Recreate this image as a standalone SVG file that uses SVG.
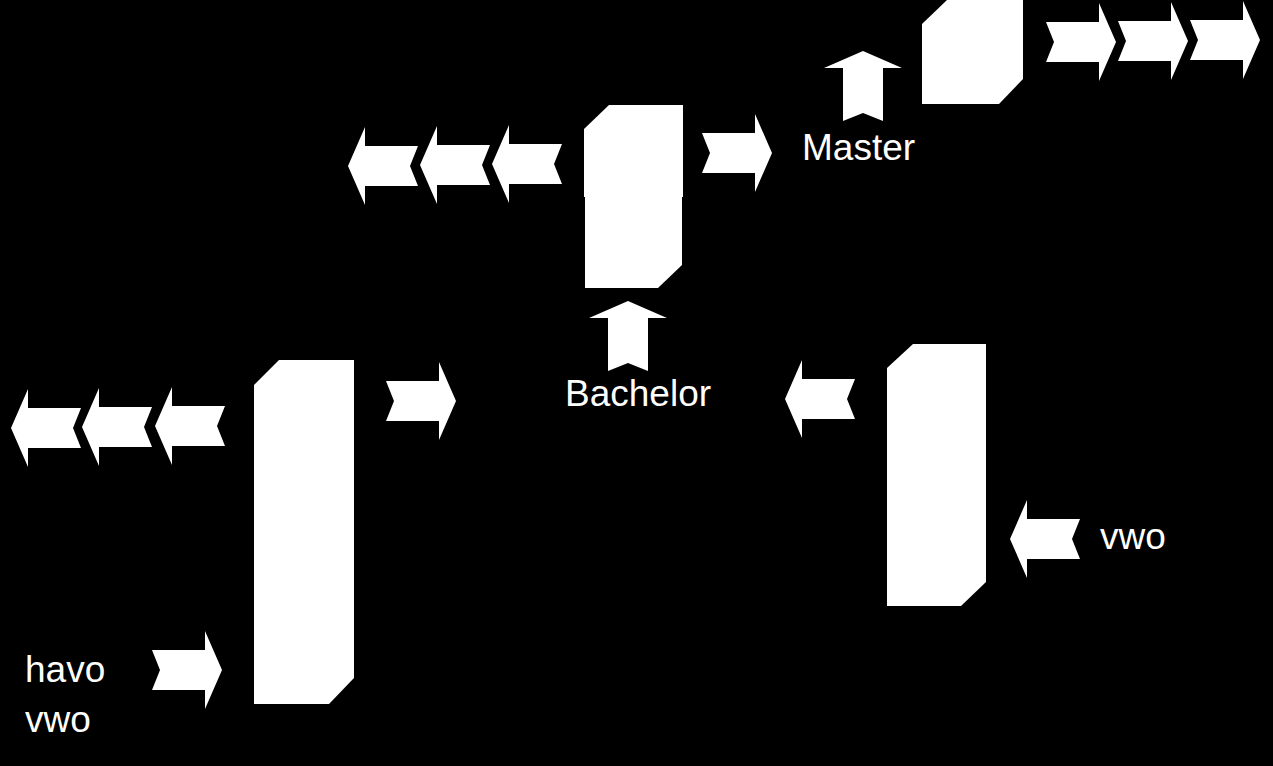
<svg xmlns="http://www.w3.org/2000/svg" xmlns:xlink="http://www.w3.org/1999/xlink" width="1273" height="766" viewBox="0 0 1273 766">
<style>
.box{fill:#fff;stroke:none}
.arw{fill:#fff;stroke:none}
.lbl{fill:#fff;font-family:"Liberation Sans",Arial,sans-serif;font-size:37px}
</style>
<defs>
<path id="ar" d="M0,19 H53 V0 L70,39 L53,78 V59 H0 L8,39 Z"/>
<path id="al" d="M70,19 H17 V0 L0,39 L17,78 V59 H70 L62,39 Z"/>
<path id="au" d="M19,70 V17 H0 L39,0 L78,17 H59 V70 L39,62 Z"/>
</defs>
<rect x="0" y="0" width="1273" height="766" fill="#000"/>
<g id="hbo-1"><path class="box" d="M254,385 L279,360 H354 V451 H254 Z"/></g>
<g id="hbo-2"><rect class="box" x="254" y="451" width="100" height="80"/></g>
<g id="hbo-3"><rect class="box" x="254" y="531" width="100" height="80"/></g>
<g id="hbo-4"><path class="box" d="M254,611 H354 V678 L329,704 H254 Z"/></g>
<g id="master-1"><path class="box" d="M584,129 L609,105 H683 V197 H584 Z"/></g>
<g id="master-2"><path class="box" d="M585,197 H682 V265 L658,288 H585 Z"/></g>
<g id="wo-1"><path class="box" d="M887,368 L913,344 H986 V435 H887 Z"/></g>
<g id="wo-2"><rect class="box" x="887" y="435" width="99" height="80"/></g>
<g id="wo-3"><path class="box" d="M887,515 H986 V582 L961,606 H887 Z"/></g>
<g id="phd"><path class="box" d="M922,24 L947,0 H1023 V79 L999,104 H922 Z"/></g>
<g id="label-master"><text class="lbl" x="802" y="160">Master</text></g>
<g id="label-bachelor"><text class="lbl" x="565" y="406">Bachelor</text></g>
<g id="label-vwo-right"><text class="lbl" x="1100" y="549">vwo</text></g>
<g id="label-havo-vwo"><text class="lbl" x="25" y="682">havo</text><text class="lbl" x="25" y="732">vwo</text></g>
<g id="connectors" class="arw">
<use xlink:href="#ar" href="#ar" transform="translate(152,631)"/>
<use xlink:href="#ar" href="#ar" transform="translate(386,362)"/>
<use xlink:href="#ar" href="#ar" transform="translate(702,114)"/>
<use xlink:href="#ar" href="#ar" transform="translate(1046,3)"/>
<use xlink:href="#ar" href="#ar" transform="translate(1118,2)"/>
<use xlink:href="#ar" href="#ar" transform="translate(1190,1)"/>
<use xlink:href="#al" href="#al" transform="translate(11,389)"/>
<use xlink:href="#al" href="#al" transform="translate(82,388)"/>
<use xlink:href="#al" href="#al" transform="translate(155,387)"/>
<use xlink:href="#al" href="#al" transform="translate(348,127)"/>
<use xlink:href="#al" href="#al" transform="translate(420,126)"/>
<use xlink:href="#al" href="#al" transform="translate(492,125)"/>
<use xlink:href="#al" href="#al" transform="translate(785,360)"/>
<use xlink:href="#al" href="#al" transform="translate(1010,500)"/>
<use xlink:href="#au" href="#au" transform="translate(824,51)"/>
<use xlink:href="#au" href="#au" transform="translate(589,301)"/>
</g>
</svg>
